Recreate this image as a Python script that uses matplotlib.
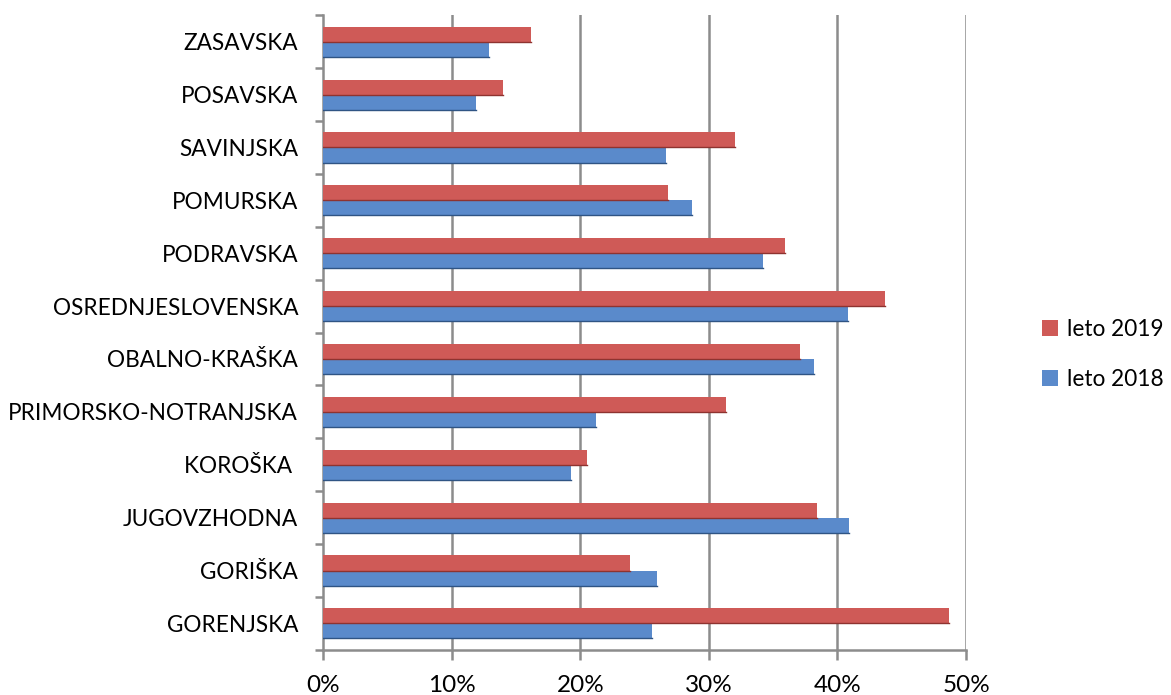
import numpy as np
import matplotlib.pyplot as plt
from matplotlib.ticker import FuncFormatter

regije = ["GORENJSKA", "GORIŠKA", "JUGOVZHODNA", "KOROŠKA ", "PRIMORSKO-NOTRANJSKA",
          "OBALNO-KRAŠKA", "OSREDNJESLOVENSKA", "PODRAVSKA", "POMURSKA",
          "SAVINJSKA", "POSAVSKA", "ZASAVSKA"]
leto_2019 = [48.7, 23.9, 38.4, 20.5, 31.3, 37.1, 43.7, 35.9, 26.8, 32.0, 14.0, 16.2]
leto_2018 = [25.6, 26.0, 40.9, 19.3, 21.2, 38.2, 40.8, 34.2, 28.7, 26.7, 11.9, 12.9]

plt.rcParams['font.family'] = ['Lato', 'DejaVu Sans']

fig = plt.figure(figsize=(11.71, 6.95), dpi=100)
ax = fig.add_axes([0.276, 0.065, 0.549, 0.913])

y = np.arange(len(regije))
h = 0.285
red = '#CF5A57'
blue = '#5A8ACB'

# mreža
for g in range(10, 51, 10):
    ax.axvline(g, color='#8C8C8C', lw=1.8, zorder=0)

ax.barh(y + h / 2, leto_2019, height=h, color=red, edgecolor='none', label='leto 2019', zorder=3)
ax.barh(y - h / 2, leto_2018, height=h, color=blue, edgecolor='none', label='leto 2018', zorder=3)
# temnejši rob (3D videz)
for v, yy, c in zip(leto_2019 + leto_2018, list(y + h / 2) + list(y - h / 2),
                    ['#8E3330'] * 12 + ['#2F5484'] * 12):
    ax.plot([0, v], [yy - h / 2, yy - h / 2], color=c, lw=1.0, zorder=4)

ax.set_xlim(0, 50)
ax.set_ylim(-0.5, len(regije) - 0.5)
ax.set_xticks(range(0, 51, 10))
ax.xaxis.set_major_formatter(FuncFormatter(lambda v, p: f"{int(v)}%"))
ax.set_yticks(y)
ax.set_yticklabels(regije)
ax.set_yticks(np.arange(-0.5, len(regije), 1), minor=True)
ax.tick_params(axis='y', which='major', length=0, pad=18, labelsize=16.3)
ax.tick_params(axis='y', which='minor', length=6, color='#8C8C8C', width=1.8)
ax.tick_params(axis='x', length=7, color='#8C8C8C', width=1.8, labelsize=17.5, pad=11)

for s in ['top', 'right']:
    ax.spines[s].set_visible(False)
for s in ['left', 'bottom']:
    ax.spines[s].set_color('#8C8C8C')
    ax.spines[s].set_linewidth(1.8)

handles, labels = ax.get_legend_handles_labels()
fig.legend(handles, labels, loc='center left', bbox_to_anchor=(0.89, 0.49),
           frameon=False, fontsize=16.3, handlelength=0.7, handleheight=0.7,
           handletextpad=0.4, labelspacing=1.25, borderpad=0, borderaxespad=0)

fig.savefig("out.png")
